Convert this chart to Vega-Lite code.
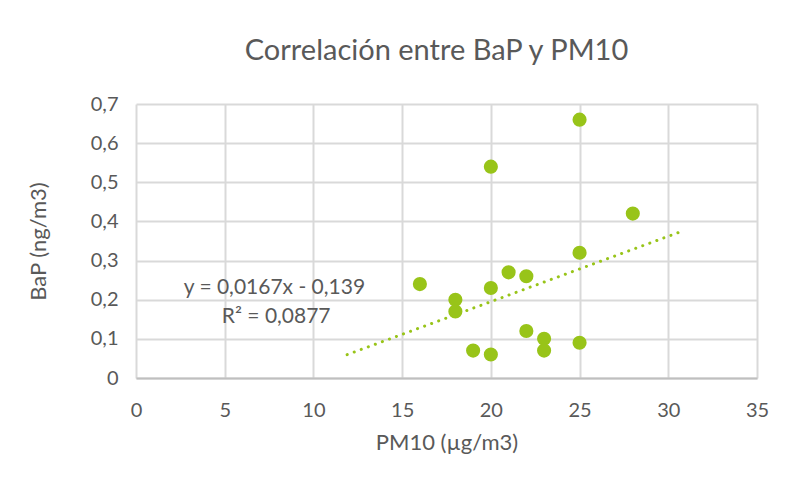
{
  "$schema": "https://vega.github.io/schema/vega-lite/v6.json",
  "autosize": "none",
  "width": 621,
  "height": 274,
  "padding": {"left": 136, "top": 104, "right": 29, "bottom": 109},
  "background": "white",
  "config": {
    "font": "Lato",
    "locale": {"number": {"decimal": ",", "thousands": ".", "grouping": [3], "currency": ["", " €"]}},
    "view": {"stroke": null},
    "axis": {
      "labelFont": "Lato", "labelFontSize": 20, "labelColor": "#595959",
      "titleFont": "Lato", "titleFontSize": 22, "titleColor": "#595959", "titleFontWeight": "normal",
      "gridColor": "#d9d9d9", "gridWidth": 2, "ticks": false, "domain": false,
      "labelOverlap": false, "labelBound": false, "labelFlush": false
    }
  },
  "title": {
    "text": "Correlación entre BaP y PM10",
    "font": "Lato", "fontSize": 29, "fontWeight": "normal", "color": "#595959",
    "anchor": "middle", "offset": 28, "dx": -10
  },
  "datasets": {
    "points": [
      {"pm10": 16, "bap": 0.24},
      {"pm10": 18, "bap": 0.20},
      {"pm10": 18, "bap": 0.17},
      {"pm10": 19, "bap": 0.07},
      {"pm10": 20, "bap": 0.06},
      {"pm10": 20, "bap": 0.23},
      {"pm10": 20, "bap": 0.54},
      {"pm10": 21, "bap": 0.27},
      {"pm10": 22, "bap": 0.26},
      {"pm10": 22, "bap": 0.12},
      {"pm10": 23, "bap": 0.10},
      {"pm10": 23, "bap": 0.07},
      {"pm10": 25, "bap": 0.66},
      {"pm10": 25, "bap": 0.32},
      {"pm10": 25, "bap": 0.09},
      {"pm10": 28, "bap": 0.42}
    ],
    "trend": [
      {"pm10": 11.9, "bap": 0.0597},
      {"pm10": 30.8, "bap": 0.3754}
    ],
    "labels": [
      {"pm10": 7.8, "bap": 0.23, "text": "y = 0,0167x - 0,139"},
      {"pm10": 7.9, "bap": 0.155, "text": "R² = 0,0877"}
    ]
  },
  "encoding": {
    "x": {"field": "pm10", "type": "quantitative", "title": "PM10 (µg/m3)",
          "scale": {"domain": [0, 35], "nice": false, "zero": true},
          "axis": {"values": [0, 5, 10, 15, 20, 25, 30, 35], "labelPadding": 22, "titlePadding": 12,
                   "domain": true, "domainColor": "#bfbfbf", "domainWidth": 2}},
    "y": {"field": "bap", "type": "quantitative", "title": "BaP (ng/m3)",
          "scale": {"domain": [0, 0.7], "nice": false},
          "axis": {"values": [0, 0.1, 0.2, 0.3, 0.4, 0.5, 0.6, 0.7], "format": ".1~f", "labelPadding": 18, "titlePadding": 40}}
  },
  "layer": [
    {
      "data": {"name": "trend"},
      "mark": {"type": "line", "color": "#98c419", "strokeWidth": 3, "strokeCap": "round", "strokeDash": [0.1, 7.4]}
    },
    {
      "data": {"name": "points"},
      "mark": {"type": "point", "filled": true, "opacity": 1, "size": 200, "color": "#98c419"}
    },
    {
      "data": {"name": "labels"},
      "mark": {"type": "text", "font": "Lato", "fontSize": 21, "color": "#595959", "align": "center", "baseline": "middle"},
      "encoding": {
        "text": {"field": "text"}
      }
    }
  ]
}
